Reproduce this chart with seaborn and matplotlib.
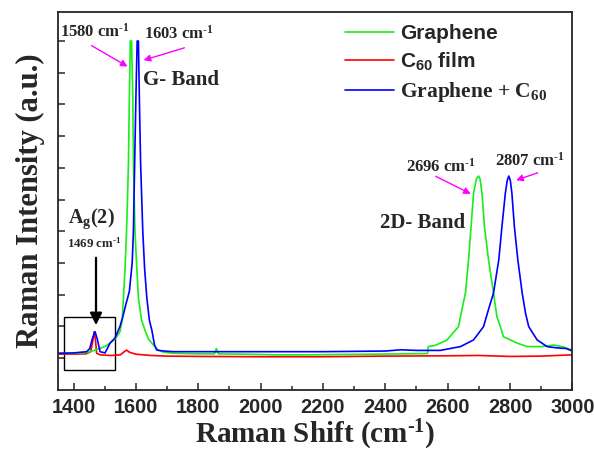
import numpy as np
import pandas as pd
import seaborn as sns
import matplotlib.pyplot as plt
from matplotlib.patches import Rectangle
from matplotlib.font_manager import FontProperties

# Raman spectra (intensity in arbitrary units)
gx = [1350, 1400, 1440, 1470, 1500, 1517, 1533, 1549, 1556, 1560, 1565, 1570, 1573, 1576,
      1579, 1582, 1586, 1590, 1592, 1597, 1603, 1608, 1618, 1629, 1640, 1651, 1671, 1690,
      1720, 1800, 1852, 1858, 1864, 1950, 2050, 2150, 2250, 2350, 2450, 2535, 2538, 2560,
      2586, 2598, 2618, 2635, 2645, 2657, 2667, 2675, 2683, 2692, 2699, 2704, 2710, 2718,
      2731, 2747, 2758, 2769, 2779, 2801, 2823, 2855, 2900, 2940, 2970, 3000]
gy = [0.015, 0.015, 0.017, 0.025, 0.036, 0.047, 0.060, 0.083, 0.12, 0.19, 0.28, 0.40, 0.50, 0.615,
      0.824, 1.0, 1.0, 0.824, 0.615, 0.40, 0.28, 0.19, 0.12, 0.088, 0.060, 0.047, 0.025, 0.018,
      0.015, 0.013, 0.013, 0.030, 0.013, 0.012, 0.010, 0.010, 0.011, 0.012, 0.013, 0.014, 0.036, 0.040,
      0.051, 0.057, 0.080, 0.099, 0.15, 0.205, 0.31, 0.414, 0.52, 0.565, 0.574, 0.565, 0.52, 0.414,
      0.31, 0.205, 0.13, 0.099, 0.067, 0.057, 0.047, 0.036, 0.036, 0.041, 0.035, 0.025]

rx = [1350, 1440, 1455, 1461, 1466, 1470, 1474, 1485, 1520, 1550, 1560, 1570, 1580, 1600,
      1650, 1700, 1800, 2000, 2200, 2400, 2600, 2700, 2800, 2900, 3000]
ry = [0.012, 0.013, 0.020, 0.050, 0.083, 0.060, 0.015, 0.010, 0.008, 0.010, 0.018, 0.025, 0.018, 0.012,
      0.008, 0.006, 0.005, 0.004, 0.004, 0.006, 0.007, 0.008, 0.005, 0.006, 0.010]

bx = [1350, 1400, 1442, 1452, 1460, 1469, 1476, 1485, 1501, 1517, 1533, 1549, 1558, 1568, 1579,
      1588, 1592, 1596, 1600, 1604, 1608, 1611, 1615, 1622, 1628, 1635, 1643, 1651, 1660, 1667,
      1690, 1720, 1800, 2000, 2200, 2400, 2450, 2500, 2576, 2641, 2683, 2715, 2730, 2747, 2764,
      2774, 2785, 2791, 2796, 2801, 2806, 2814, 2825, 2839, 2850, 2860, 2887, 2919, 2950, 2980, 3000]
by = [0.015, 0.016, 0.020, 0.030, 0.060, 0.083, 0.060, 0.020, 0.016, 0.047, 0.063, 0.10, 0.13, 0.17, 0.21,
      0.30, 0.40, 0.615, 0.824, 1.0, 1.0, 0.824, 0.615, 0.40, 0.28, 0.19, 0.12, 0.088, 0.040, 0.025,
      0.022, 0.020, 0.020, 0.020, 0.020, 0.022, 0.026, 0.024, 0.024, 0.036, 0.057, 0.099, 0.15, 0.205, 0.31,
      0.414, 0.52, 0.56, 0.574, 0.56, 0.52, 0.414, 0.31, 0.205, 0.14, 0.099, 0.057, 0.036, 0.032, 0.030, 0.022]

labels = ["Graphene", "C$_{60}$ film", "Graphene + C$_{60}$"]
colors = ["#18ee18", "#ff0000", "#0000ff"]
inv_cm = "cm$^{\\text{-1}}$"

sns.set_style("ticks")
plt.rcParams["font.family"] = ["Liberation Serif", "DejaVu Serif"]
plt.rcParams["font.weight"] = "bold"
plt.rcParams["mathtext.fontset"] = "custom"
plt.rcParams["mathtext.rm"] = "Liberation Serif:bold"
plt.rcParams["mathtext.it"] = "Liberation Serif:bold"
plt.rcParams["mathtext.bf"] = "Liberation Serif:bold"
plt.rcParams["mathtext.default"] = "regular"

serif = FontProperties(family="Liberation Serif", weight="bold")
sans = FontProperties(family="Liberation Sans", weight="bold")

fig = plt.figure(figsize=(5.94, 4.53), dpi=100)
ax = fig.add_axes([0.0976, 0.139, 0.866, 0.8345])

sns.lineplot(x=rx, y=ry, ax=ax, color=colors[1], lw=1.2, estimator=None, sort=False, legend=False)
sns.lineplot(x=gx, y=gy, ax=ax, color=colors[0], lw=1.2, estimator=None, sort=False, legend=False)
sns.lineplot(x=bx, y=by, ax=ax, color=colors[2], lw=1.2, estimator=None, sort=False, legend=False)

ax.set_xlim(1350, 3000)
ax.set_ylim(-0.101, 1.0915)
ax.set_xticks(np.arange(1400, 3001, 200))
ax.set_xticks(np.arange(1400, 3001, 100), minor=True)
ax.set_yticks(np.arange(0, 1.01, 0.1))
ax.set_yticklabels([])
for lab in ax.get_xticklabels():
    lab.set_fontproperties(sans)
    lab.set_fontsize(14.3)
ax.tick_params(axis="both", which="major", direction="in", length=5, width=1.1, pad=6)
ax.tick_params(axis="x", which="minor", direction="in", length=3, width=1.1)
for sp in ax.spines.values():
    sp.set_linewidth(1.3)

ax.set_xlabel("Raman Shift (" + inv_cm + ")", fontproperties=serif, fontsize=21, labelpad=0)
ax.set_ylabel("Raman Intensity (a.u.)", fontproperties=serif, fontsize=22, labelpad=3)

# legend
handles = [ax.lines[1], ax.lines[0], ax.lines[2]]
leg = ax.legend(handles, labels, loc="upper left", bbox_to_anchor=(0.541, 0.99), frameon=False,
                fontsize=15, handlelength=2.35, handletextpad=0.3, labelspacing=0.36, borderaxespad=0)
for t, fp, fs in zip(leg.get_texts(), [sans, sans, serif], [15, 15, 15.5]):
    t.set_fontproperties(fp)
    t.set_fontsize(fs)

mag = dict(arrowstyle="-|>", color="#ff00ff", lw=1.0, mutation_scale=10)
ax.annotate("", xy=(1581, 0.915), xytext=(1450, 0.99), arrowprops=mag)
ax.annotate("", xy=(1616, 0.937), xytext=(1764, 0.981), arrowprops=mag)
ax.annotate("", xy=(2682, 0.514), xytext=(2554, 0.577), arrowprops=mag)
ax.annotate("", xy=(2811, 0.558), xytext=(2897, 0.587), arrowprops=mag)
ax.annotate("", xy=(1472, 0.095), xytext=(1472, 0.325),
            arrowprops=dict(arrowstyle="-|>", color="black", lw=1.6, mutation_scale=18))

ax.text(1469, 1.028, "1580 " + inv_cm, ha="center", va="center", fontproperties=serif, fontsize=12)
ax.text(1738, 1.022, "1603 " + inv_cm, ha="center", va="center", fontproperties=serif, fontsize=12)
ax.text(1623, 0.877, "G- Band", ha="left", va="center", fontproperties=serif, fontsize=15)
ax.text(2579, 0.603, "2696 " + inv_cm, ha="center", va="center", fontproperties=serif, fontsize=12)
ax.text(2865, 0.621, "2807 " + inv_cm, ha="center", va="center", fontproperties=serif, fontsize=12)
ax.text(2384, 0.426, "2D- Band", ha="left", va="center", fontproperties=serif, fontsize=15)
ax.text(1382, 0.44, "A$_g$(2)", ha="left", va="center", fontproperties=serif, fontsize=14.5)
ax.text(1379, 0.363, "1469 " + inv_cm, ha="left", va="center", fontproperties=serif, fontsize=9.3)

ax.add_patch(Rectangle((1369, -0.038), 164, 0.167, fill=False, ec="black", lw=1.0))

fig.savefig("out.png", dpi=100)
